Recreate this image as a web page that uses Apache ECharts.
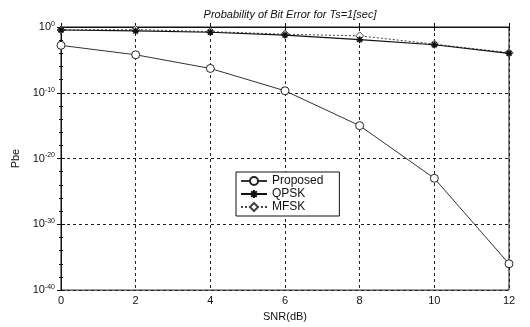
<!DOCTYPE html>
<html><head><meta charset="utf-8">
<script src="https://cdn.jsdelivr.net/npm/echarts@6/dist/echarts.min.js"></script>
<style>html,body{margin:0;padding:0;background:#fff}#c{width:530px;height:327px}</style>
</head><body><div id="c"></div>
<script>
const snr = [0, 2, 4, 6, 8, 10, 12];
const proposed = [1.6e-3, 6e-5, 5e-7, 2e-10, 1e-15, 1e-23, 1e-36];
const qpsk = [0.35, 0.25, 0.16, 0.06, 0.012, 2e-3, 1e-4];
const mfsk = [0.35, 0.4, 0.2, 0.08, 0.045, 2.5e-3, 1.2e-4];
const yTicks = [1e-40, 1e-30, 1e-20, 1e-10, 1];
const xTicks = [0, 2, 4, 6, 8, 10, 12];

// log10 decade axis (ECharts log scale loses precision near 1e-40)
const pair = (xs, ys) => xs.map((x, i) => [x, Math.log10(ys[i])]);
const chart = echarts.init(document.getElementById('c'));
const axisFont = {fontFamily: 'Liberation Sans, Arial', fontSize: 11, color: '#111'};
const yMin = Math.log10(yTicks[0]);
const yMax = Math.log10(yTicks[yTicks.length - 1]);
chart.setOption({
  backgroundColor: '#fff',
  animation: false,
  title: {text: 'Probability of Bit Error for Ts=1[sec]', left: 285, top: 4, textAlign: 'center',
    textStyle: {fontFamily: 'Liberation Sans, Arial', fontStyle: 'italic', fontWeight: 'normal', fontSize: 11, color: '#111'}},
  grid: {left: 61, right: 21, top: 27, bottom: 31, show: true, borderColor: '#111', borderWidth: 1},
  legend: {
    orient: 'vertical', left: 236, top: 172, itemGap: 1, itemWidth: 26, itemHeight: 10,
    backgroundColor: '#fff', borderColor: '#111', borderWidth: 1, padding: [3, 16, 3, 4],
    textStyle: {fontFamily: 'Liberation Sans, Arial', fontSize: 12, color: '#111'},
    data: ['Proposed', 'QPSK', 'MFSK']
  },
  xAxis: [{
    type: 'value', min: xTicks[0], max: xTicks[xTicks.length - 1], interval: 2,
    name: 'SNR(dB)', nameLocation: 'middle', nameGap: 18,
    nameTextStyle: axisFont,
    axisLine: {lineStyle: {color: '#111'}},
    axisTick: {inside: true, length: 4, lineStyle: {color: '#111'}},
    axisLabel: Object.assign({margin: 5}, axisFont),
    splitLine: {show: true, lineStyle: {color: '#222', type: [3, 3], width: 1}}
  }, {
    type: 'value', position: 'top', min: xTicks[0], max: xTicks[xTicks.length - 1], interval: 2,
    axisLine: {show: true, lineStyle: {color: '#111'}},
    axisTick: {show: true, inside: true, length: 4, lineStyle: {color: '#111'}},
    axisLabel: {show: false}, splitLine: {show: false}
  }],
  yAxis: [{
    type: 'value', min: yMin, max: yMax, interval: 10,
    name: 'Pbe', nameLocation: 'middle', nameGap: 40, nameRotate: 90,
    nameTextStyle: axisFont,
    axisLine: {lineStyle: {color: '#111'}},
    axisTick: {inside: true, length: 4, lineStyle: {color: '#111'}},
    minorTick: {show: true, splitNumber: 5, length: 2, lineStyle: {color: '#111'}},
    axisLabel: {
      margin: 6,
      formatter: v => '10{s|' + Math.round(v) + '}',
      fontFamily: 'Liberation Sans, Arial', fontSize: 11, color: '#111',
      rich: {s: {fontSize: 7, verticalAlign: 'top', padding: [0, 0, 6, 0], fontFamily: 'Liberation Sans, Arial', color: '#111'}}
    },
    splitLine: {show: true, lineStyle: {color: '#222', type: [3, 3], width: 1}}
  }, {
    type: 'value', position: 'right', min: yMin, max: yMax, interval: 10,
    axisLine: {show: true, lineStyle: {color: '#111'}},
    axisTick: {show: true, inside: true, length: 4, lineStyle: {color: '#111'}},
    minorTick: {show: true, splitNumber: 5, length: 2, lineStyle: {color: '#111'}},
    axisLabel: {show: false}, splitLine: {show: false}
  }],
  series: [
    {name: 'Proposed', type: 'line', data: pair(snr, proposed), symbol: 'circle', symbolSize: 8,
     lineStyle: {color: '#333', width: 1}, itemStyle: {color: '#fff', borderColor: '#222', borderWidth: 1}, z: 3},
    {name: 'QPSK', type: 'line', data: pair(snr, qpsk),
     symbol: 'path://M0,-1L0,1M-1,0L1,0M-0.7,-0.7L0.7,0.7M-0.7,0.7L0.7,-0.7', symbolSize: 7,
     lineStyle: {color: '#111', width: 1.2}, itemStyle: {color: '#111', borderColor: '#111', borderWidth: 1.5}, z: 4},
    {name: 'MFSK', type: 'line', data: pair(snr, mfsk), symbol: 'diamond', symbolSize: 8,
     lineStyle: {color: '#444', width: 1, type: [2, 2]}, itemStyle: {color: '#fff', borderColor: '#444', borderWidth: 1}, z: 2}
  ]
});
</script></body></html>
